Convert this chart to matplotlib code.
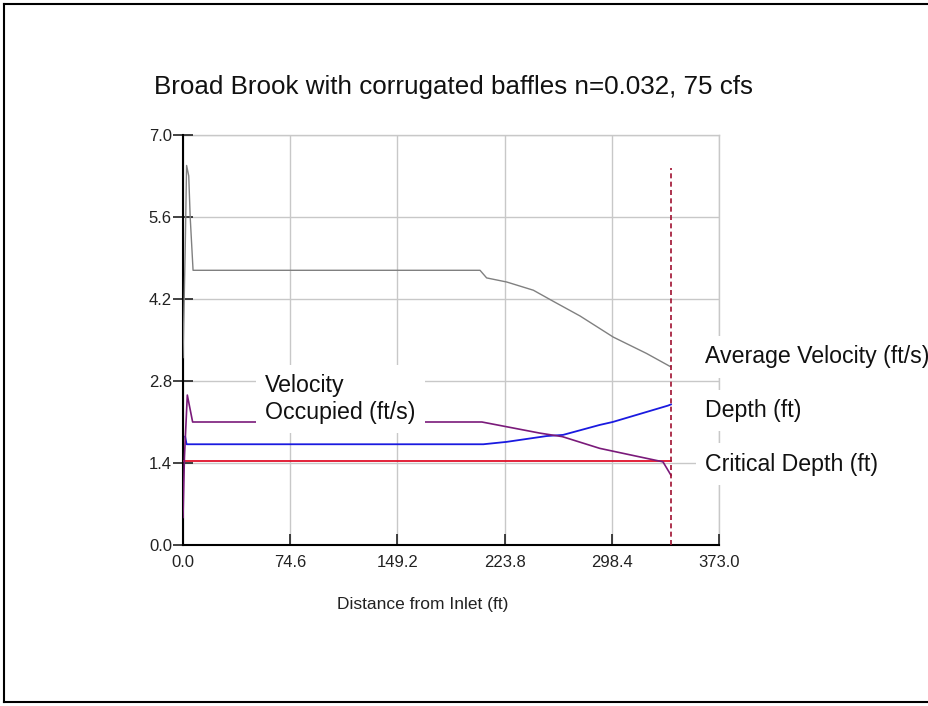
import matplotlib
matplotlib.use("Agg")
import matplotlib.pyplot as plt
from matplotlib.lines import Line2D

plt.rcParams["font.family"] = ["Liberation Sans", "DejaVu Sans"]

_GRAY = "#808080"
_PURPLE = "#7a1a7a"
_BLUE = "#1a1ae0"
_RED = "#e0102a"
_DASH = "#a01030"
_GRID = "#c8c8c8"

# Average velocity (ft/s)
vel_dist = [0, 1.5, 2.5, 4, 5, 7, 206.7, 211.3, 225.3, 243.8, 257.7, 276.3, 299.4, 322.6, 339.6]
avg_vel = [3.2, 5.0, 6.48, 6.3, 5.6, 4.69, 4.69, 4.56, 4.49, 4.35, 4.16, 3.91, 3.55, 3.27, 3.04]

# Velocity occupied (ft/s)
occ_dist = [0, 1, 3, 6.7, 208, 225, 248.4, 264, 290, 311, 334, 339.6]
occ_vel = [0.47, 1.5, 2.56, 2.10, 2.10, 2.02, 1.91, 1.85, 1.65, 1.54, 1.42, 1.19]

# Depth (ft)
depth_dist = [1.5, 2.5, 209, 225, 253, 264.5, 290, 299, 337.5, 339.6]
depth = [1.85, 1.72, 1.72, 1.76, 1.86, 1.88, 2.05, 2.10, 2.38, 2.40]

# Critical depth (ft)
crit_dist = [0.5, 339.6]
crit_depth = [1.43, 1.43]

outlet_x = 339.6
outlet_top = 6.43

x_ticks = [0.0, 74.6, 149.2, 223.8, 298.4, 373.0]
y_ticks = [0.0, 1.4, 2.8, 4.2, 5.6, 7.0]

fig = plt.figure(figsize=(9.29, 7.06), dpi=100)
ax = fig.add_axes([183 / 929, 1 - 545 / 706, 536 / 929, 410 / 706])

ax.plot(vel_dist, avg_vel, color=_GRAY, lw=1.0, zorder=3)
ax.plot(crit_dist, crit_depth, color=_RED, lw=1.3, zorder=3)
ax.plot(depth_dist, depth, color=_BLUE, lw=1.3, zorder=4)
ax.plot(occ_dist, occ_vel, color=_PURPLE, lw=1.2, zorder=5)
ax.plot([outlet_x, outlet_x], [0, outlet_top], color=_DASH, lw=1.2,
        linestyle=(0, (3, 2)), zorder=6)

ax.set_xlim(0, 373.0)
ax.set_ylim(0, 7.0)
ax.set_xticks(x_ticks)
ax.set_yticks(y_ticks)
ax.set_xticklabels([f"{t:.1f}" for t in x_ticks])
ax.set_yticklabels([f"{t:.1f}" for t in y_ticks])
ax.grid(True, color=_GRID, lw=1.0, zorder=0)
ax.set_axisbelow(True)
ax.tick_params(axis="x", direction="in", length=8, width=1.2, pad=7,
               labelsize=12, colors="#222222")
ax.tick_params(axis="y", direction="inout", length=14, width=1.2, pad=1,
               labelsize=12, colors="#222222")
ax.spines["top"].set_visible(False)
ax.spines["right"].set_visible(False)
ax.spines["left"].set_linewidth(1.5)
ax.spines["bottom"].set_linewidth(1.5)
# close the plot area with grey lines at the outer limits
ax.plot([0, 373.0], [7.0, 7.0], color=_GRID, lw=1.0, clip_on=False, zorder=0)
ax.plot([373.0, 373.0], [0, 7.0], color=_GRID, lw=1.0, clip_on=False, zorder=0)

box = dict(facecolor="white", edgecolor="none", boxstyle="square,pad=0.4")
lab = dict(fontsize=16.7, ha="left", va="center", color="#111111",
           bbox=box, clip_on=False, zorder=7)
ax.text(363.3, 3.21, "Average Velocity (ft/s)", **lab)
ax.text(363.3, 2.30, "Depth (ft)", **lab)
ax.text(363.3, 1.38, "Critical Depth (ft)", **lab)
ax.text(57, 2.49, "Velocity\nOccupied (ft/s)", linespacing=1.2, **lab)

fig.text(453.5 / 929, 1 - 87 / 706, "Broad Brook with corrugated baffles n=0.032, 75 cfs",
         ha="center", va="center", fontsize=18.7, color="#111111")
fig.text(423 / 929, 1 - 604 / 706, "Distance from Inlet (ft)",
         ha="center", va="center", fontsize=12.5, color="#222222")

# page frame (right edge falls outside the picture)
for xs, ys in [([4 / 929, 4 / 929], [0.005, 1 - 4 / 706]),
               ([4 / 929, 1.01], [1 - 4 / 706, 1 - 4 / 706]),
               ([4 / 929, 1.01], [0.005, 0.005])]:
    fig.add_artist(Line2D(xs, ys, color="black", lw=1.5, transform=fig.transFigure))

fig.savefig("out.png", dpi=100)
plt.close(fig)
